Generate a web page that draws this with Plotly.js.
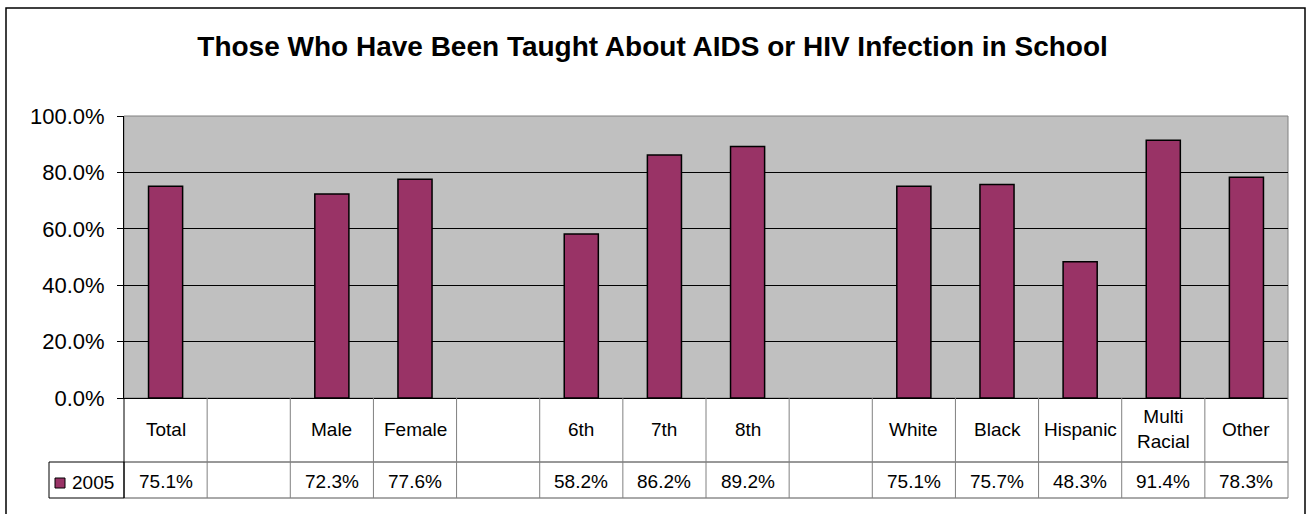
<!DOCTYPE html>
<html>
<head>
<meta charset="utf-8">
<script src="https://cdn.plot.ly/plotly-3.0.1.min.js"></script>
<style>html,body{margin:0;padding:0;background:#fff;}#chart{width:1313px;height:514px;}</style>
</head>
<body>
<div id="chart"></div>
<script>
const categories = ["Total", "", "Male", "Female", "", "6th", "7th", "8th", "", "White", "Black", "Hispanic", "Multi<br>Racial", "Other"];
const values2005 = [75.1, null, 72.3, 77.6, null, 58.2, 86.2, 89.2, null, 75.1, 75.7, 48.3, 91.4, 78.3];
const seriesName = "2005";
const yTicks = [0, 20, 40, 60, 80, 100];

const W = 1313, H = 514;
const M = {l: 124, r: 25, t: 116, b: 116};
const PW = W - M.l - M.r, PH = H - M.t - M.b;
const px = x => (x - M.l) / PW;           // pixel -> paper x
const py = y => (H - M.b - y) / PH;        // pixel -> paper y

const N = categories.length;
const idx = categories.map((c, i) => i);
const FONT = "Liberation Sans, Arial, sans-serif";
const TFS = 19;

const shapes = [];
const annotations = [];

// plot area border (gray)
shapes.push({type: "rect", xref: "paper", yref: "paper", x0: 0, x1: 1, y0: 0, y1: 1,
  line: {color: "#808080", width: 1}, layer: "below"});

// outer chart border
shapes.push({type: "rect", xref: "paper", yref: "paper", x0: px(6), x1: px(1305), y0: py(530), y1: py(8),
  line: {color: "#000", width: 1.5}});

// data table
const rowTop = py(398), rowMid = py(462), rowBot = py(498);
shapes.push({type: "line", xref: "paper", yref: "paper", x0: 0, x1: 1, y0: rowMid, y1: rowMid, line: {color: "#333", width: 1}});
shapes.push({type: "line", xref: "paper", yref: "paper", x0: 0, x1: 1, y0: rowBot, y1: rowBot, line: {color: "#555", width: 1}});
for (let k = 1; k <= N; k++) {
  shapes.push({type: "line", xref: "paper", yref: "paper", x0: k / N, x1: k / N, y0: rowTop, y1: rowBot,
    line: {color: "#808080", width: 1}});
}
shapes.push({type: "line", xref: "paper", yref: "paper", x0: 0, x1: 0, y0: rowTop, y1: rowBot, line: {color: "#000", width: 1}});
// legend cell
shapes.push({type: "rect", xref: "paper", yref: "paper", x0: px(49), x1: 0, y0: rowBot, y1: rowMid,
  line: {color: "#000", width: 1}});
shapes.push({type: "rect", xref: "paper", yref: "paper", x0: px(55), x1: px(65), y0: py(488), y1: py(478),
  fillcolor: "#993366", line: {color: "#000", width: 1}});
annotations.push({xref: "paper", yref: "paper", x: px(70), y: py(482), xanchor: "left", yanchor: "middle",
  text: seriesName, showarrow: false, font: {family: FONT, size: TFS, color: "#000"}});

categories.forEach((c, i) => {
  if (c) {
    annotations.push({xref: "paper", yref: "paper", x: (i + 0.5) / N, y: py(429), xanchor: "center", yanchor: "middle",
      text: c, showarrow: false, font: {family: FONT, size: TFS, color: "#000"}, align: "center"});
  }
  if (values2005[i] !== null) {
    annotations.push({xref: "paper", yref: "paper", x: (i + 0.5) / N, y: py(481), xanchor: "center", yanchor: "middle",
      text: values2005[i].toFixed(1) + "%", showarrow: false, font: {family: FONT, size: TFS, color: "#000"}});
  }
});

const data = [{
  type: "bar", x: idx, y: values2005, name: seriesName,
  marker: {color: "#993366", line: {color: "#000", width: 1.5}},
  width: 0.41, hoverinfo: "x+y"
}];

const layout = {
  width: W, height: H,
  margin: M,
  paper_bgcolor: "#fff", plot_bgcolor: "#c0c0c0",
  showlegend: false,
  title: {text: "<b>Those Who Have Been Taught About AIDS or HIV Infection in School</b>",
    font: {family: FONT, size: 28, color: "#000"}, x: 0.497, xanchor: "center", y: 1 - 46 / H, yanchor: "middle"},
  xaxis: {range: [-0.5, N - 0.5], showticklabels: false, showgrid: false, zeroline: false,
    showline: true, linecolor: "#000", linewidth: 1, ticks: "", fixedrange: true},
  yaxis: {range: [0, 100], tickvals: yTicks, ticktext: yTicks.map(v => v.toFixed(1) + "%"),
    showgrid: true, gridcolor: "#000", gridwidth: 1, zeroline: false,
    showline: true, linecolor: "#000", linewidth: 1, ticks: "outside", ticklen: 6, tickcolor: "#000",
    ticklabelstandoff: 8,
    tickfont: {family: FONT, size: 22, color: "#000"}, fixedrange: true},
  shapes: shapes,
  annotations: annotations
};

Plotly.newPlot("chart", data, layout, {displayModeBar: false, staticPlot: true});
</script>
</body>
</html>
